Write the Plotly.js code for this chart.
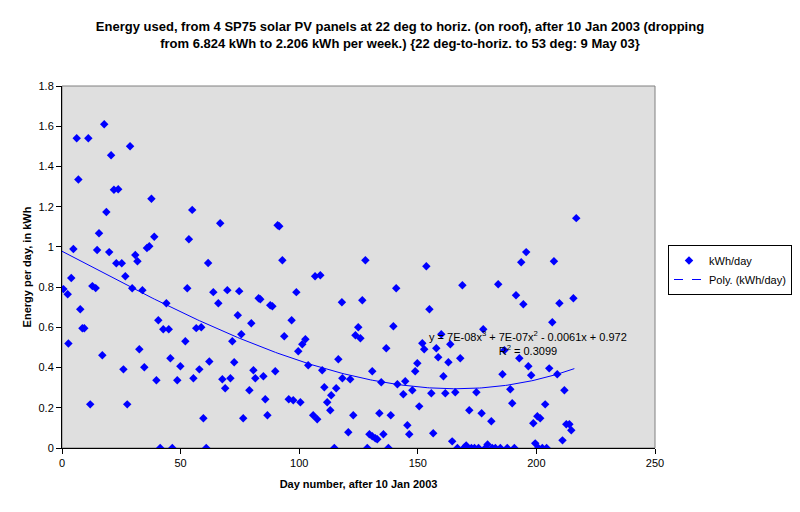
<!DOCTYPE html>
<html>
<head>
<meta charset="utf-8">
<script src="https://cdn.plot.ly/plotly-3.0.1.min.js"></script>
<style>
  html, body { margin: 0; padding: 0; background: #fff; }
  #chart { width: 800px; height: 512px; }
</style>
</head>
<body>
<div id="chart"></div>
<script>
// day number after 10 Jan 2003
const days = [
  0.6, 2.4, 2.7, 3.9, 4.8, 6.2, 6.9, 7.7, 8.6, 9.4,
  11.1, 11.9, 12.8, 14.2, 14.8, 15.6, 17.0, 17.8, 18.7, 19.9,
  20.7, 21.9, 22.9, 23.7, 25.2, 25.9, 26.7, 27.5, 28.7, 29.6,
  30.9, 31.8, 32.6, 33.9, 34.7, 35.8, 36.8, 37.7, 38.9, 39.8,
  40.6, 41.4, 42.7, 44.0, 45.0, 45.7, 46.5, 48.6, 49.9, 52.0,
  52.8, 53.5, 54.9, 55.4, 56.6, 57.9, 58.7, 59.6, 60.8, 61.6,
  62.1, 63.8, 65.9, 66.7, 67.6, 68.8, 69.7, 71.0, 71.8, 72.6,
  74.1, 74.7, 75.6, 76.4, 79.0, 79.8, 80.7, 81.5, 82.9, 83.6,
  84.9, 85.7, 86.6, 87.8, 88.7, 89.9, 90.9, 91.6, 92.9, 93.7,
  95.6, 96.8, 97.5, 98.8, 99.6, 100.5, 101.3, 102.6, 103.8, 105.9,
  106.7, 107.6, 108.9, 109.7, 110.6, 111.8, 113.1, 113.5, 114.8, 115.6,
  116.5, 118.0, 118.2, 120.7, 121.5, 122.8, 123.7, 124.9, 125.8, 126.6,
  127.9, 128.7, 129.6, 130.8, 130.8, 132.1, 132.9, 133.8, 134.6, 135.5,
  136.7, 137.6, 138.6, 139.7, 140.9, 141.4, 143.9, 144.7, 145.6, 146.4,
  147.7, 148.9, 149.8, 150.6, 151.9, 152.7, 153.6, 154.9, 155.7, 156.5,
  157.8, 158.6, 159.9, 160.8, 161.6, 162.9, 163.7, 164.5, 165.8, 166.7,
  167.9, 168.8, 169.6, 170.4, 171.7, 172.6, 173.9, 174.7, 175.6, 176.9,
  177.6, 178.5, 179.4, 181.0, 181.4, 182.7, 183.9, 184.8, 185.7, 186.5,
  187.7, 189.0, 189.8, 190.7, 191.4, 192.8, 193.6, 194.5, 195.7, 196.6,
  197.8, 198.7, 199.5, 200.4, 200.8, 201.6, 202.5, 203.7, 204.3, 205.4,
  206.7, 207.4, 208.8, 209.7, 211.0, 211.8, 212.6, 213.9, 214.7, 215.6,
  216.8
];

// kWh per day
const kwh = [
  0.79, 0.765, 0.52, 0.845, 0.99, 1.54, 1.335, 0.69, 0.595, 0.595,
  1.54, 0.217, 0.805, 0.795, 0.985, 1.068, 0.461, 1.61, 1.173, 0.974,
  1.456, 1.284, 0.919, 1.287, 0.919, 0.391, 0.854, 0.217, 1.50, 0.794,
  0.96, 0.929, 0.491, 0.785, 0.401, 0.994, 1.003, 1.239, 1.05, 0.337,
  0.635, 0, 0.59, 0.72, 0.59, 0.446, 0, 0.337, 0.406, 0.531,
  0.794, 1.038, 1.184, 0.347, 0.596, 0.391, 0.60, 0.148, 0, 0.92,
  0.43, 0.775, 0.72, 1.118, 0.342, 0.297, 0.785, 0.347, 0.531, 0.426,
  0.66, 0.78, 0.566, 0.148, 0.287, 0.62, 0.387, 0.347, 0.745, 0.74,
  0.357, 0.242, 0.163, 0.71, 0.705, 0.382, 1.108, 1.103, 0.934, 0.556,
  0.242, 0.635, 0.237, 0.775, 0.481, 0.227, 0.516, 0.541, 0.411, 0.163,
  0.854, 0.143, 0.859, 0.387, 0.302, 0.227, 0.188, 0.262, 0, 0.297,
  0.441, 0.725, 0.347, 0.078, 0.342, 0.163, 0.561, 0.60, 0.546, 0.735,
  0.934, 0, 0.068, 0.058, 0.382, 0.048, 0.043, 0.173, 0.327, 0.068,
  0.496, 0, 0.163, 0.605, 0.794, 0.317, 0.267, 0.332, 0.113, 0.068,
  0.287, 0.382, 0.421, 0.207, 0.521, 0.491, 0.904, 0.69, 0.272, 0.073,
  0.496, 0.451, 0.566, 0.357, 0.272, 0.426, 0.516, 0.033, 0.277, 0,
  0.446, 0.809, 0.003, 0.013, 0.188, 0, 0, 0.277, 0, 0.173,
  0.59, 0, 0.018, 0.133, 0, 0, 0.814, 0, 0.367, 0.486,
  0, 0.292, 0.222, 0, 0.76, 0.446, 0.924, 0.715, 0.974, 0.406,
  0.362, 0.123, 0.023, 0.158, 0, 0.148, 0, 0.217, 0, 0.396,
  0.625, 0.929, 0.367, 0.72, 0.038, 0.287, 0.118, 0.118, 0.088, 0.745,
  1.143
];

const trendLabel = 'y = 7E-08x<sup>3</sup> + 7E-07x<sup>2</sup> - 0.0061x + 0.972<br>R<sup>2</sup> = 0.3099';

// least squares cubic fit, like the Excel trendline
function polyFit(xs, ys, order) {
    const n = order + 1;
    const A = [];
    for (let i = 0; i < n; i++) {
        A.push(new Array(n + 1).fill(0));
    }
    for (let k = 0; k < xs.length; k++) {
        for (let i = 0; i < n; i++) {
            for (let j = 0; j < n; j++) A[i][j] += Math.pow(xs[k], i + j);
            A[i][n] += ys[k] * Math.pow(xs[k], i);
        }
    }
    for (let i = 0; i < n; i++) {
        let p = i;
        for (let r = i + 1; r < n; r++) if (Math.abs(A[r][i]) > Math.abs(A[p][i])) p = r;
        [A[i], A[p]] = [A[p], A[i]];
        for (let r = 0; r < n; r++) {
            if (r === i) continue;
            const f = A[r][i] / A[i][i];
            for (let c = i; c <= n; c++) A[r][c] -= f * A[i][c];
        }
    }
    return A.map((row, i) => row[n] / row[i]);
}

const coef = polyFit(days, kwh, 3);
const trendX = [];
const trendY = [];
const lastDay = days[days.length - 1];
for (let d = 0; d <= lastDay; d += 1) {
    trendX.push(d);
    trendY.push(coef[0] + coef[1] * d + coef[2] * d * d + coef[3] * d * d * d);
}

const data = [
    {
        x: days, y: kwh,
        type: 'scatter', mode: 'markers',
        name: 'kWh/day',
        marker: { symbol: 'diamond', size: 6.5, color: '#0000ff' },
    },
    {
        x: trendX, y: trendY,
        type: 'scatter', mode: 'lines',
        showlegend: false,
        line: { color: '#0000ff', width: 1 },
    },
    {
        // legend entry only (Excel shows the trendline dashed in the key)
        x: [null], y: [null],
        type: 'scatter', mode: 'lines',
        name: 'Poly. (kWh/day)',
        line: { color: '#0000ff', width: 1, dash: 'dash' },
    }
];

const layout = {
    width: 800, height: 512,
    margin: { l: 62, r: 145, t: 86, b: 64 },
    paper_bgcolor: '#ffffff',
    plot_bgcolor: '#dfdfdf',
    font: { family: 'Liberation Sans, Arial, sans-serif', size: 11, color: '#000' },
    title: {
        text: '<b>Energy used, from 4 SP75 solar PV panels at 22 deg to horiz. (on roof), after 10 Jan 2003 (dropping<br>from 6.824 kWh to 2.206 kWh per week.) {22 deg-to-horiz. to 53 deg: 9 May 03}</b>',
        font: { family: 'Liberation Sans, Arial, sans-serif', size: 13, color: '#000' },
        x: 0.5, xref: 'container', xanchor: 'center',
        y: 0.94, yref: 'container', yanchor: 'top',
    },
    xaxis: {
        range: [0, 250], dtick: 50, tick0: 0,
        showgrid: false, zeroline: false,
        showline: true, linecolor: '#000', linewidth: 1,
        ticks: 'outside', ticklen: 5, tickcolor: '#000',
        title: { text: '<b>Day number, after 10 Jan 2003</b>', font: { size: 11 }, standoff: 12 },
    },
    yaxis: {
        range: [0, 1.8], dtick: 0.2, tick0: 0,
        showgrid: false, zeroline: false,
        showline: true, linecolor: '#000', linewidth: 1,
        ticks: 'outside', ticklen: 5, tickcolor: '#000',
        title: { text: '<b>Energy per day, in kWh</b>', font: { size: 11 }, standoff: 4 },
    },
    shapes: [{
        type: 'rect', xref: 'paper', yref: 'paper',
        x0: 0, x1: 1, y0: 0, y1: 1,
        line: { color: '#808080', width: 1 },
        layer: 'below',
    }],
    annotations: [{
        text: trendLabel,
        x: 196.5, y: 0.52, xref: 'x', yref: 'y',
        showarrow: false, align: 'center',
        font: { size: 11, color: '#000' },
    }],
    legend: {
        xref: 'container', yref: 'container',
        x: 668 / 800, y: 1 - 245 / 512, xanchor: 'left', yanchor: 'top',
        bgcolor: '#ffffff', bordercolor: '#000', borderwidth: 1,
        font: { size: 11 },
        tracegroupgap: 0,
    },
};

const config = { responsive: false, displayModeBar: false, staticPlot: true };

Plotly.newPlot('chart', data, layout, config);
</script>
</body>
</html>
